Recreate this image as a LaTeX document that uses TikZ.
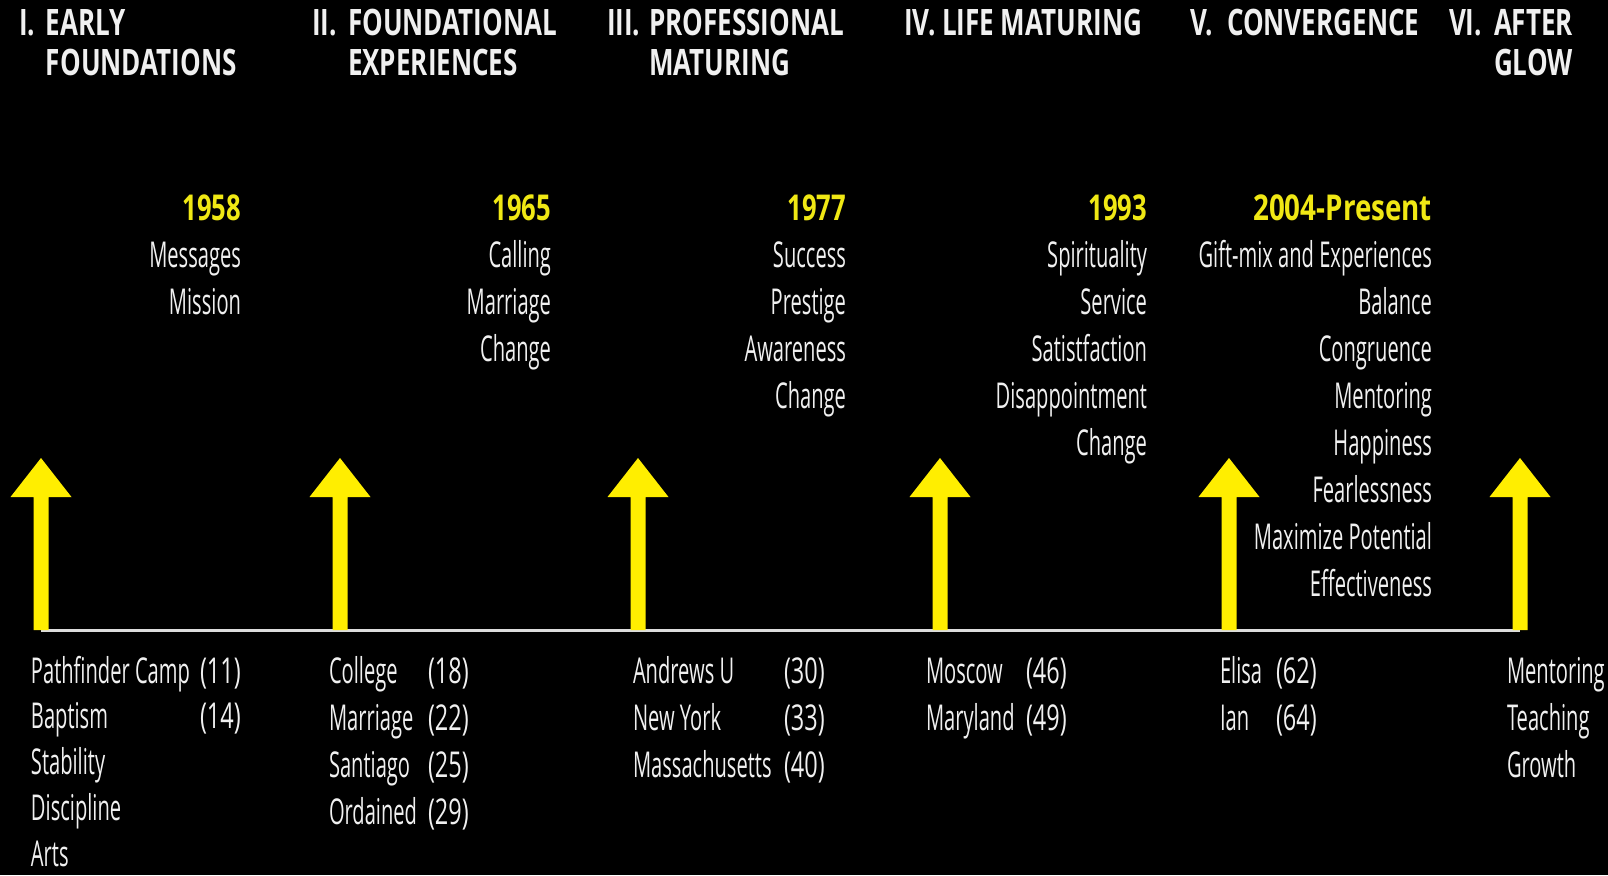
\documentclass[tikz,border=0pt]{standalone}
\usepackage{fontspec}
\setmainfont{Open Sans}
\newfontfamily\regf[FakeStretch=0.565]{Open Sans}
\newfontfamily\agef[FakeStretch=0.66]{Open Sans}
\newfontfamily\boldf[FakeStretch=0.715]{Open Sans}
\newfontfamily\yearf[FakeStretch=0.72]{Open Sans}
\newfontfamily\yearwf[FakeStretch=0.78]{Open Sans}
\definecolor{ylw}{RGB}{255,238,0}
\definecolor{ytxt}{RGB}{240,232,20}
\definecolor{wtxt}{RGB}{240,240,240}
\definecolor{tline}{RGB}{220,220,220}
\begin{document}
\begin{tikzpicture}[x=0.5pt,y=-0.5pt,
  every node/.style={inner sep=0pt,outer sep=0pt},
  hdr/.style={font=\boldf\bfseries\fontsize{18.2}{20}\selectfont,text=wtxt,anchor=base west},
  yr/.style={font=\yearf\bfseries\fontsize{17.8}{23.5}\selectfont,text=ytxt,anchor=base east},
  toplist/.style={font=\regf\fontsize{17.8}{23.5}\selectfont,text=wtxt,anchor=base east},
  botlist/.style={font=\regf\fontsize{17.8}{23.5}\selectfont,text=wtxt,anchor=base west},
  agelist/.style={botlist,font=\agef\fontsize{17.8}{23.5}\selectfont},
  uparrow/.pic={\fill[ylw] (-7.5,0) -- (-7.5,-133) -- (-30.5,-133) -- (0,-172) -- (30.5,-133) -- (7.5,-133) -- (7.5,0) -- cycle;}
]
\fill[black] (0,0) rectangle (1608,875);
\useasboundingbox (0,0) rectangle (1608,875);

% timeline anchors
\coordinate (b1) at (41,630);
\coordinate (b2) at (340,630);
\coordinate (b3) at (638,630);
\coordinate (b4) at (940,630);
\coordinate (b5) at (1229,630);
\coordinate (b6) at (1520,630);
\draw[tline,line width=1.5pt] (b1) -- (b6);
\foreach \b in {b1,b2,b3,b4,b5,b6} \pic at (\b) {uparrow};

% headers
\node[hdr] (h1n) at (19,35) {I.};
\node[hdr] (h1t) at (46,35) {\begin{tabular}[t]{@{}l@{}}EARLY\\FOUNDATIONS\end{tabular}};
\node[hdr] (h2n) at (312,35) {II.};
\node[hdr] (h2t) at (348,35) {\begin{tabular}[t]{@{}l@{}}FOUNDATIONAL\\EXPERIENCES\end{tabular}};
\node[hdr] (h3n) at (607,35) {III.};
\node[hdr] (h3t) at (649,35) {\begin{tabular}[t]{@{}l@{}}PROFESSIONAL\\MATURING\end{tabular}};
\node[hdr] (h4n) at (904,35) {IV.};
\node[hdr] (h4t) at (942,35) {LIFE MATURING};
\node[hdr] (h5n) at (1190,35) {V.};
\node[hdr] (h5t) at (1227,35) {CONVERGENCE};
\node[hdr] (h6n) at (1449,35) {VI.};
\node[hdr] (h6t) at (1494,35) {\begin{tabular}[t]{@{}l@{}}AFTER\\GLOW\end{tabular}};

% years
\node[yr] (y1) at (241,220) {1958};
\node[yr] (y2) at (551,220) {1965};
\node[yr] (y3) at (846,220) {1977};
\node[yr] (y4) at (1147,220) {1993};
\node[yr,font=\yearwf\bfseries\fontsize{17.8}{23.5}\selectfont] (y5) at (1432,220) {2004-Present};

% upper lists
\node[toplist] (l1) at (241,267) {\begin{tabular}[t]{@{}r@{}}Messages\\Mission\end{tabular}};
\node[toplist] (l2) at (551,267) {\begin{tabular}[t]{@{}r@{}}Calling\\Marriage\\Change\end{tabular}};
\node[toplist] (l3) at (846,267) {\begin{tabular}[t]{@{}r@{}}Success\\Prestige\\Awareness\\Change\end{tabular}};
\node[toplist] (l4) at (1147,267) {\begin{tabular}[t]{@{}r@{}}Spirituality\\Service\\Satistfaction\\Disappointment\\Change\end{tabular}};
\node[toplist] (l5) at (1432,267) {\begin{tabular}[t]{@{}r@{}}Gift-mix and Experiences\\Balance\\Congruence\\Mentoring\\Happiness\\Fearlessness\\Maximize Potential\\Effectiveness\end{tabular}};

% lower lists
\node[botlist,font=\regf\fontsize{17.8}{22.9}\selectfont] (n1) at (31,683) {\begin{tabular}[t]{@{}l@{}}Pathfinder Camp\\Baptism\\Stability\\Discipline\\Arts\end{tabular}};
\node[agelist,font=\agef\fontsize{17.8}{22.9}\selectfont] (a1) at (200,683) {\begin{tabular}[t]{@{}l@{}}(11)\\(14)\end{tabular}};
\node[botlist] (n2) at (329,683) {\begin{tabular}[t]{@{}l@{}}College\\Marriage\\Santiago\\Ordained\end{tabular}};
\node[agelist] (a2) at (428,683) {\begin{tabular}[t]{@{}l@{}}(18)\\(22)\\(25)\\(29)\end{tabular}};
\node[botlist] (n3) at (633,683) {\begin{tabular}[t]{@{}l@{}}Andrews U\\New York\\Massachusetts\end{tabular}};
\node[agelist] (a3) at (784,683) {\begin{tabular}[t]{@{}l@{}}(30)\\(33)\\(40)\end{tabular}};
\node[botlist] (n4) at (926,683) {\begin{tabular}[t]{@{}l@{}}Moscow\\Maryland\end{tabular}};
\node[agelist] (a4) at (1026,683) {\begin{tabular}[t]{@{}l@{}}(46)\\(49)\end{tabular}};
\node[botlist] (n5) at (1220,683) {\begin{tabular}[t]{@{}l@{}}Elisa\\Ian\end{tabular}};
\node[agelist] (a5) at (1276,683) {\begin{tabular}[t]{@{}l@{}}(62)\\(64)\end{tabular}};
\node[botlist] (n6) at (1507,683) {\begin{tabular}[t]{@{}l@{}}Mentoring\\Teaching\\Growth\end{tabular}};
\end{tikzpicture}
\end{document}
